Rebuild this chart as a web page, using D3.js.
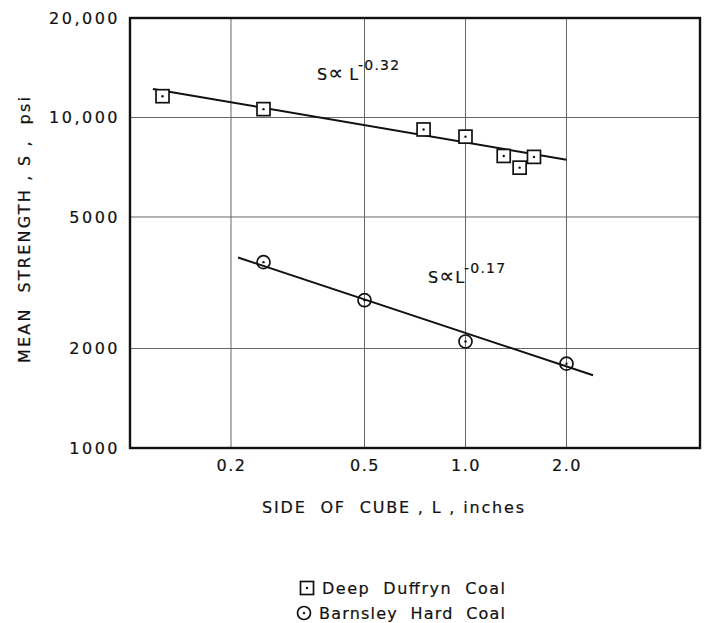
<!DOCTYPE html>
<html>
<head>
<meta charset="utf-8">
<script src="https://cdn.jsdelivr.net/npm/d3@7"></script>
<style>
  body { margin: 0; background: #fff; }
  text { font-family: "DejaVu Sans", sans-serif; fill: #111; stroke: #111; stroke-width: 0.2px; }
</style>
</head>
<body>
<script>
// Deep Duffryn coal (squares)
const duffrynL = [0.125, 0.25, 0.75, 1.0, 1.3, 1.45, 1.6];
const duffrynS = [11600, 10600, 9200, 8750, 7650, 7050, 7600];
const duffrynFitL = [0.117, 2.0];
const duffrynFitS = [12200, 7450];

// Barnsley hard coal (circles)
const barnsleyL = [0.25, 0.5, 1.0, 2.0];
const barnsleyS = [3650, 2800, 2100, 1800];
const barnsleyFitL = [0.21, 2.4];
const barnsleyFitS = [3770, 1660];

const xTicks = [0.2, 0.5, 1.0, 2.0];
const xTickLabels = ["0.2", "0.5", "1.0", "2.0"];
const yTicks = [1000, 2000, 5000, 10000, 20000];
const yTickLabels = ["1000", "2000", "5000", "10,000", "20,000"];
const xGrid = [0.2, 0.5, 1.0, 2.0];
const yGrid = [2000, 5000, 10000];

const W = 705, H = 623;
const pLeft = 130, pRight = 700, pTop = 18, pBottom = 448;

const svg = d3.select("body").append("svg")
  .attr("width", W)
  .attr("height", H);

const x = d3.scaleLog().domain([0.1, 5]).range([pLeft, pRight]);
const y = d3.scaleLog().domain([1000, 20000]).range([pBottom, pTop]);

// grid
svg.append("g").selectAll("line").data(xGrid).join("line")
  .attr("x1", d => x(d)).attr("x2", d => x(d))
  .attr("y1", pTop).attr("y2", pBottom)
  .attr("stroke", "#666").attr("stroke-width", 1);

svg.append("g").selectAll("line").data(yGrid).join("line")
  .attr("x1", pLeft).attr("x2", pRight)
  .attr("y1", d => y(d)).attr("y2", d => y(d))
  .attr("stroke", "#666").attr("stroke-width", 1);

// axes (labels only, frame drawn separately)
const xAxis = svg.append("g")
  .attr("transform", `translate(0,${pBottom})`)
  .call(d3.axisBottom(x).tickValues(xTicks).tickSize(0).tickPadding(12)
    .tickFormat((d, i) => xTickLabels[i]));
xAxis.select(".domain").remove();
xAxis.selectAll("text")
  .style("font-size", "16px")
  .style("letter-spacing", "1.5px")
  .style("font-family", "DejaVu Sans")
  .attr("fill", "#111");

const yAxis = svg.append("g")
  .attr("transform", `translate(${pLeft},0)`)
  .call(d3.axisLeft(y).tickValues(yTicks).tickSize(0).tickPadding(10)
    .tickFormat((d, i) => yTickLabels[i]));
yAxis.select(".domain").remove();
yAxis.selectAll("text")
  .style("font-size", "16px")
  .style("letter-spacing", "2.5px")
  .style("font-family", "DejaVu Sans")
  .attr("fill", "#111");

// frame
svg.append("rect")
  .attr("x", pLeft).attr("y", pTop)
  .attr("width", pRight - pLeft).attr("height", pBottom - pTop)
  .attr("fill", "none").attr("stroke", "#111").attr("stroke-width", 2.4);

// fitted lines
const line = d3.line().x(d => x(d[0])).y(d => y(d[1]));
svg.append("path")
  .attr("d", line(d3.zip(duffrynFitL, duffrynFitS)))
  .attr("fill", "none").attr("stroke", "#111").attr("stroke-width", 2);
svg.append("path")
  .attr("d", line(d3.zip(barnsleyFitL, barnsleyFitS)))
  .attr("fill", "none").attr("stroke", "#111").attr("stroke-width", 2);

// markers
function square(g, cx, cy) {
  g.append("rect").attr("x", cx - 6.5).attr("y", cy - 6.5).attr("width", 13).attr("height", 13)
    .attr("fill", "#fff").attr("stroke", "#111").attr("stroke-width", 1.7);
  g.append("circle").attr("cx", cx).attr("cy", cy).attr("r", 1.2).attr("fill", "#111");
}
function ring(g, cx, cy) {
  g.append("circle").attr("cx", cx).attr("cy", cy).attr("r", 6.5)
    .attr("fill", "none").attr("stroke", "#111").attr("stroke-width", 1.7);
  g.append("circle").attr("cx", cx).attr("cy", cy).attr("r", 1.2).attr("fill", "#111");
}

const pts = svg.append("g");
d3.zip(duffrynL, duffrynS).forEach(d => square(pts, x(d[0]), y(d[1])));
d3.zip(barnsleyL, barnsleyS).forEach(d => ring(pts, x(d[0]), y(d[1])));

// power law labels
function powerLabel(px, py, exp, gap) {
  const t = svg.append("text").attr("x", px).attr("y", py)
    .style("font-size", "16px");
  t.append("tspan").text("S");
  t.append("tspan").text("\u221D").attr("dx", 1).style("font-size", "21px");
  t.append("tspan").text("L").attr("dx", gap);
  t.append("tspan").text(exp).attr("dy", -10).style("font-size", "14px")
    .style("letter-spacing", "1.2px");
}
powerLabel(317, 80, "-0.32", 6);
powerLabel(428, 283, "-0.17", 1);

// axis titles
svg.append("text")
  .attr("x", 262).attr("y", 513)
  .attr("textLength", 262).attr("lengthAdjust", "spacing")
  .style("font-size", "16px")
  .text("SIDE\u00A0 OF\u00A0 CUBE , L , inches");

svg.append("text")
  .attr("transform", "translate(30,230) rotate(-90)")
  .attr("text-anchor", "middle")
  .attr("textLength", 266).attr("lengthAdjust", "spacing")
  .style("font-size", "16px")
  .text("MEAN\u00A0 STRENGTH , S ,\u00A0 psi");

// legend
const legend = svg.append("g");
legend.append("text").attr("x", 322).attr("y", 594)
  .attr("textLength", 183).attr("lengthAdjust", "spacing")
  .style("font-size", "16px").text("Deep\u00A0 Duffryn\u00A0 Coal");
square(legend, 307, 588);
legend.append("text").attr("x", 319).attr("y", 619)
  .attr("textLength", 186).attr("lengthAdjust", "spacing")
  .style("font-size", "16px").text("Barnsley\u00A0 Hard\u00A0 Coal");
ring(legend, 304, 613);
</script>
</body>
</html>
